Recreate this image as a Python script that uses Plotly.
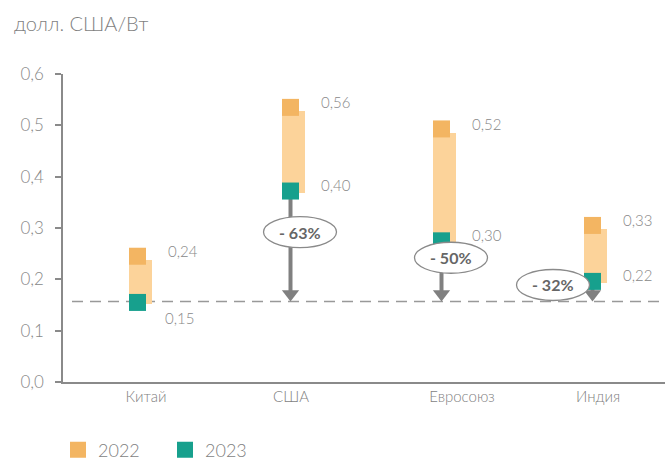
import plotly.graph_objects as go

# ---------------- data ----------------
categories = ["Китай", "США", "Евросоюз", "Индия"]
price_2022 = [0.245, 0.535, 0.493, 0.305]
price_2023 = [0.155, 0.372, 0.275, 0.196]
label_2022 = ["0,24", "0,56", "0,52", "0,33"]
label_2023 = ["0,15", "0,40", "0,30", "0,22"]
change_labels = ["", "- 63%", "- 50%", "- 32%"]
reference_level = 0.157
y_ticks = [0.0, 0.1, 0.2, 0.3, 0.4, 0.5, 0.6]

# ---------------- layout / style constants ----------------
W, H = 671, 461
ML, MR, MT, MB = 63, 6, 74, 79
plot_w = W - ML - MR
plot_h = H - MT - MB
Y_MAX = 0.6
ppu = plot_h / Y_MAX  # pixels per y unit

cat_pos = [74.5, 227.5, 378.5, 529.5]     # marker centres (x axis in px units)
tick_pos = [83, 228, 399, 535]             # category label positions
ellipse_pos = [None, (237, 0.292), (388, 0.242), (490, 0.189)]

C22 = "#F3B562"
C22_LIGHT = "#FCD39A"
C23 = "#17A08D"
GREY = "#8a8a8a"
TXT = "#888888"
FONT = "Lato"
LIGHT = 300

fig = go.Figure()

# range bars
fig.add_trace(go.Bar(
    x=[p + 3 for p in cat_pos],
    base=[v - 0.004 for v in price_2023],
    y=[(a - 0.007) - (b - 0.004) for a, b in zip(price_2022, price_2023)],
    width=23,
    marker=dict(color=C22_LIGHT, line=dict(width=0)),
    showlegend=False, hoverinfo="skip",
))

# arrow shafts
sx, sy = [], []
head_r = 7.5
for i in range(1, 4):
    sx += [cat_pos[i], cat_pos[i], None]
    sy += [price_2023[i], reference_level + 8 / ppu, None]
fig.add_trace(go.Scatter(x=sx, y=sy, mode="lines",
                         line=dict(color="#808080", width=4),
                         showlegend=False, hoverinfo="skip"))
# arrow heads
fig.add_trace(go.Scatter(
    x=cat_pos[1:], y=[reference_level + head_r / ppu] * 3, mode="markers",
    marker=dict(symbol="triangle-down", size=2 * head_r, color="#808080"),
    showlegend=False, hoverinfo="skip"))

# markers
fig.add_trace(go.Scatter(x=cat_pos, y=price_2022, mode="markers", name="2022",
                         marker=dict(symbol="square", size=17, color=C22)))
fig.add_trace(go.Scatter(x=cat_pos, y=price_2023, mode="markers", name="2023",
                         marker=dict(symbol="square", size=17, color=C23)))

shapes = [dict(type="line", xref="x", yref="y", x0=9, x1=plot_w,
               y0=reference_level, y1=reference_level,
               line=dict(color="#999999", width=1.5, dash="11px,7px"),
               layer="below")]
annotations = []
rx, ry = 36.5, 15.5 / ppu
for i, e in enumerate(ellipse_pos):
    if e is None:
        continue
    cx, cy = e
    shapes.append(dict(type="circle", xref="x", yref="y",
                       x0=cx - rx, x1=cx + rx, y0=cy - ry, y1=cy + ry,
                       fillcolor="white", line=dict(color=GREY, width=1.3),
                       layer="above"))
    annotations.append(dict(x=cx, y=cy, xref="x", yref="y", text=change_labels[i],
                            showarrow=False,
                            font=dict(family=FONT, size=16, color="#666666", weight="bold")))

for i in range(4):
    annotations.append(dict(x=cat_pos[i], y=price_2022[i], xref="x", yref="y",
                            text=label_2022[i], showarrow=False, xanchor="left",
                            xshift=28, yshift=5,
                            font=dict(family=FONT, size=15, color=TXT, weight=LIGHT)))
    if i == 0:
        xs, ys = 25, -16
    else:
        xs, ys = 28, 6
    annotations.append(dict(x=cat_pos[i], y=price_2023[i], xref="x", yref="y",
                            text=label_2023[i], showarrow=False, xanchor="left",
                            xshift=xs, yshift=ys,
                            font=dict(family=FONT, size=15, color=TXT, weight=LIGHT)))

fig.update_layout(
    width=W, height=H,
    margin=dict(l=ML, r=MR, t=MT, b=MB),
    paper_bgcolor="white", plot_bgcolor="white",
    separators=", ",
    font=dict(family=FONT, color=TXT),
    title=dict(text="долл. США/Вт", x=14 / W, xanchor="left", xref="container",
               y=1 - 24 / H, yanchor="middle", yref="container",
               font=dict(family=FONT, size=20, color="#7f7f7f", weight=LIGHT)),
    xaxis=dict(range=[0, plot_w], tickvals=tick_pos, ticktext=categories,
               showline=True, linecolor=GREY, linewidth=1.5, ticks="",
               showgrid=False, zeroline=False, fixedrange=True,
               tickfont=dict(family=FONT, size=15, color="#7f7f7f", weight=LIGHT)),
    yaxis=dict(range=[0, Y_MAX], tickvals=y_ticks, tickformat=".1f",
               ticks="outside", ticklen=6, tickcolor=GREY, tickwidth=1.5,
               showline=True, linecolor=GREY, linewidth=1.5,
               showgrid=False, zeroline=False, ticklabelstandoff=8,
               tickfont=dict(family=FONT, size=17, color=TXT, weight=LIGHT)),
    legend=dict(orientation="h", xref="container", yref="container",
                x=58 / W, y=1 - 450 / H, xanchor="left", yanchor="middle",
                itemsizing="trace", entrywidth=62, entrywidthmode="pixels",
                font=dict(family=FONT, size=18, color="#7f7f7f", weight=LIGHT),
                bgcolor="rgba(0,0,0,0)"),
    shapes=shapes, annotations=annotations,
    bargap=0,
)

fig.write_html("out.html", config={"displayModeBar": False},
               post_script="document.body.style.margin='0';document.body.style.overflow='hidden';")
